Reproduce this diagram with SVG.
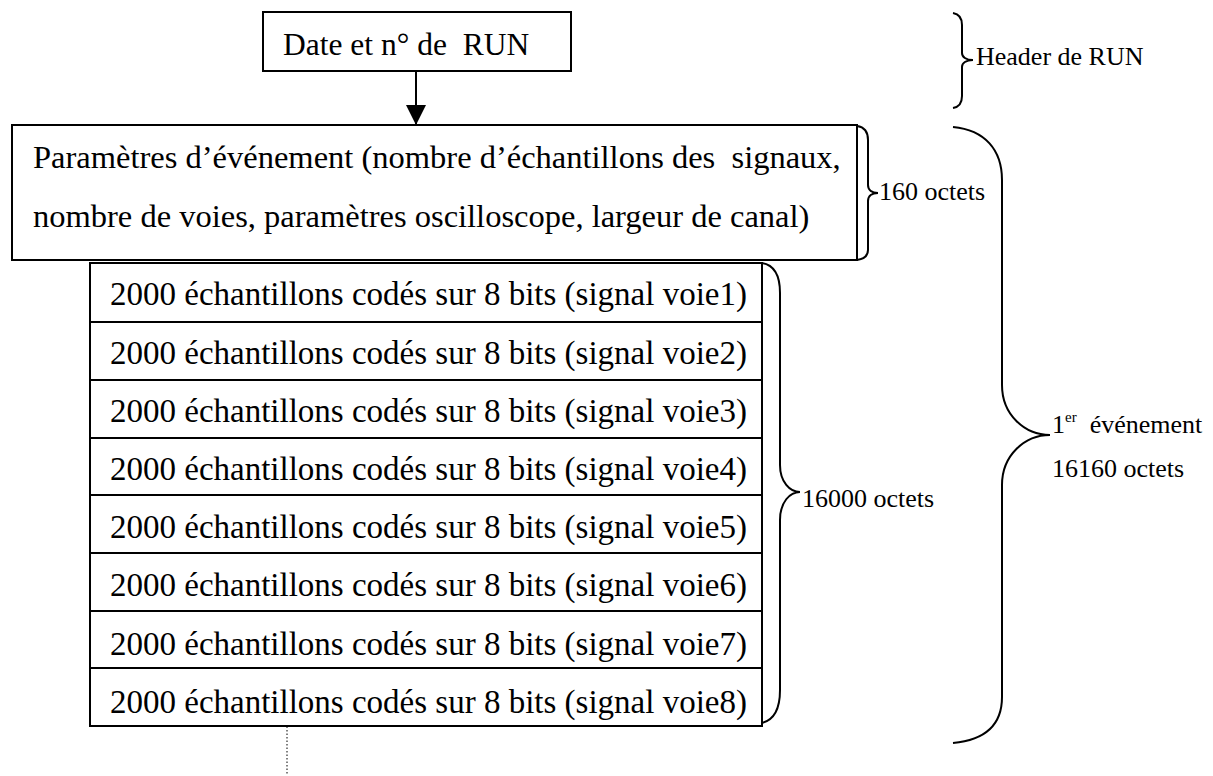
<svg xmlns="http://www.w3.org/2000/svg" width="1213" height="776" viewBox="0 0 1213 776">
<style>
.box{fill:#fff;stroke:#000;stroke-width:2}
.t{font-family:"Liberation Serif","Times New Roman",serif;fill:#000}
.big{font-size:32.5px}
.row{font-size:33px}
.lab{font-size:26px}
.brace{fill:none;stroke:#000;stroke-width:2}
</style>
<defs>
<marker id="ah" viewBox="0 0 20 20" refX="20" refY="10" markerWidth="20" markerHeight="20" markerUnits="userSpaceOnUse" orient="auto">
<path d="M0,0 L20,10 L0,20 Z" fill="#000"/>
</marker>
</defs>
<rect width="1213" height="776" fill="#fff"/>
<g id="connectors">
<line x1="416" y1="71" x2="416" y2="125" stroke="#000" stroke-width="2" marker-end="url(#ah)"/>
<line x1="287" y1="723" x2="287" y2="774" stroke="#000" stroke-width="1" stroke-dasharray="1.5,2"/>
</g>
<g id="date-run">
<rect class="box" x="263" y="12" width="308" height="59"/>
<text class="t" font-size="31.5" x="283" y="55" xml:space="preserve">Date et n° de  RUN</text>
</g>
<g id="params">
<rect class="box" x="12" y="125" width="845" height="135"/>
<text class="t big" x="33" y="168" xml:space="preserve">Paramètres d’événement (nombre d’échantillons des  signaux,</text>
<text class="t big" x="33" y="227">nombre de voies, paramètres oscilloscope, largeur de canal)</text>
</g>
<g id="voies">
<rect class="box" x="90" y="263" width="672" height="59"/>
<rect class="box" x="90" y="322" width="672" height="58"/>
<rect class="box" x="90" y="380" width="672" height="58"/>
<rect class="box" x="90" y="438" width="672" height="57"/>
<rect class="box" x="90" y="495" width="672" height="58"/>
<rect class="box" x="90" y="553" width="672" height="58"/>
<rect class="box" x="90" y="611" width="672" height="57"/>
<rect class="box" x="90" y="668" width="672" height="58"/>
<text class="t row" x="110" y="305">2000 échantillons codés sur 8 bits (signal voie1)</text>
<text class="t row" x="110" y="364">2000 échantillons codés sur 8 bits (signal voie2)</text>
<text class="t row" x="110" y="422">2000 échantillons codés sur 8 bits (signal voie3)</text>
<text class="t row" x="110" y="480">2000 échantillons codés sur 8 bits (signal voie4)</text>
<text class="t row" x="110" y="538">2000 échantillons codés sur 8 bits (signal voie5)</text>
<text class="t row" x="110" y="596">2000 échantillons codés sur 8 bits (signal voie6)</text>
<text class="t row" x="110" y="655">2000 échantillons codés sur 8 bits (signal voie7)</text>
<text class="t row" x="110" y="713">2000 échantillons codés sur 8 bits (signal voie8)</text>
</g>
<g id="header-brace">
<path class="brace" d="M953,13 C959,14 962,18 962,25 L962,53 C962,57 966,60 973,60 C966,60 962,63 962,67 L962,96 C962,103 959,107 953,108"/>
<text class="t lab" x="976" y="65">Header de RUN</text>
</g>
<g id="brace-160">
<path class="brace" d="M857,126 C864,127 868,132 868,140 L868,185 C868,190 872,193 878,193 C872,193 868,196 868,201 L868,250 C868,256 864,259 857,260"/>
<text class="t lab" x="879" y="200">160 octets</text>
</g>
<g id="brace-16000">
<path class="brace" d="M762,263 C774,265 780,275 780,293 L780,465 C780,482 790,492 800,492 C790,492 780,502 780,520 L780,690 C780,708 774,720 762,723"/>
<text class="t lab" x="802" y="507">16000 octets</text>
</g>
<g id="brace-event">
<path class="brace" d="M953,127 C985,130 1002,150 1002,180 L1002,385 C1002,415 1025,435 1050,435 C1025,435 1002,455 1002,485 L1002,697 C1002,725 985,740 953,743"/>
<text class="t lab" x="1052" y="433">1<tspan font-size="15" dy="-11">er</tspan><tspan dy="11" xml:space="preserve">  événement</tspan></text>
<text class="t lab" x="1052" y="477">16160 octets</text>
</g>
</svg>
